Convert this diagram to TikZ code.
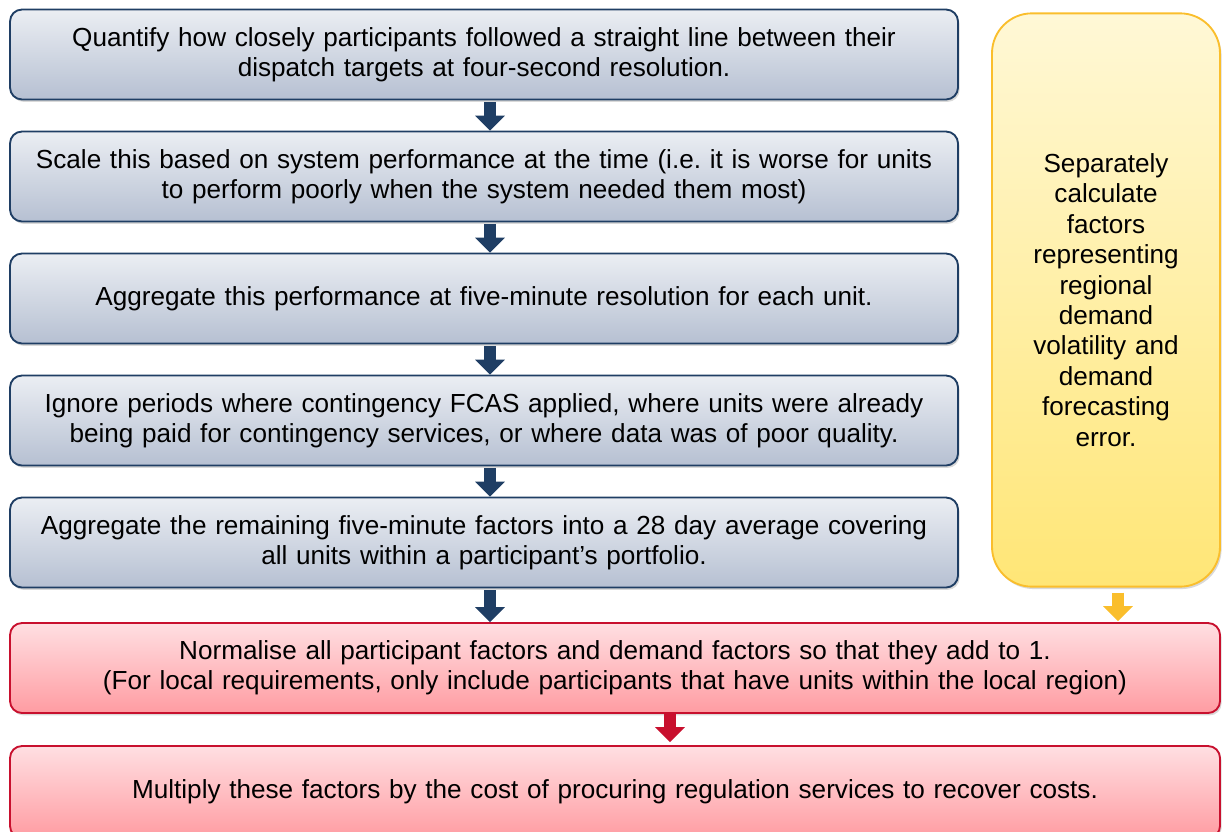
\documentclass[tikz,border=0pt]{standalone}
\usepackage{fontspec}
\setmainfont{Liberation Sans}
\usetikzlibrary{calc,arrows.meta,shadows}

\definecolor{navyline}{RGB}{31,62,100}
\definecolor{bluetop}{RGB}{235,238,243}
\definecolor{bluebot}{RGB}{182,192,210}
\definecolor{goldline}{RGB}{250,190,44}
\definecolor{yeltop}{RGB}{255,248,214}
\definecolor{yelbot}{RGB}{255,230,118}
\definecolor{crimson}{RGB}{200,16,46}
\definecolor{redtop}{RGB}{255,223,226}
\definecolor{redbot}{RGB}{255,156,162}

\frenchspacing

\tikzset{
  boxtext/.style={font=\fontsize{19.6pt}{22.8pt}\selectfont, align=center, inner sep=0pt, text=black},
  stepbox/.style={boxtext, rectangle, rounded corners=9pt, line width=1.4pt,
    draw=navyline, top color=bluetop, bottom color=bluebot,
    minimum width=711pt, minimum height=67.5pt, text width=690pt,
    drop shadow={opacity=0.3, shadow xshift=1.2pt, shadow yshift=-1.8pt}},
  sidebox/.style={boxtext, rectangle, rounded corners=30pt, line width=1.4pt,
    draw=goldline, top color=yeltop, bottom color=yelbot,
    minimum width=171pt, minimum height=430pt, text width=160pt,
    drop shadow={opacity=0.3, shadow xshift=1.2pt, shadow yshift=-1.8pt}},
  costbox/.style={boxtext, rectangle, rounded corners=9pt, line width=1.4pt,
    draw=crimson, top color=redtop, bottom color=redbot,
    minimum width=907.5pt, minimum height=67.5pt, text width=890pt,
    drop shadow={opacity=0.3, shadow xshift=1.2pt, shadow yshift=-1.8pt}},
  flowarrow/.style={line width=9.5pt, -{Triangle[width=21.75pt,length=11.25pt]}},
}

\begin{document}
\begin{tikzpicture}[x=0.75pt,y=-0.75pt]
\useasboundingbox (0,0) rectangle (1222,832);

% main sequence of steps
\node[stepbox] (s1) at (484,54.5) {Quantify how closely participants followed a straight line between their\\dispatch targets at four-second resolution.};
\node[stepbox] (s2) at (484,176.5) {Scale this based on system performance at the time (i.e. it is worse for units\\to perform poorly when the system needed them most)};
\node[stepbox] (s3) at (484,298.5) {Aggregate this performance at five-minute resolution for each unit.};
\node[stepbox] (s4) at (484,420.5) {Ignore periods where contingency FCAS applied, where units were already\\being paid for contingency services, or where data was of poor quality.};
\node[stepbox] (s5) at (484,542.5) {Aggregate the remaining five-minute factors into a 28 day average covering\\all units within a participant’s portfolio.};

% demand factor branch
\node[sidebox] (dem) at (1106,300) {Separately\\calculate\\factors\\representing\\regional\\demand\\volatility and\\demand\\forecasting\\error.};

% normalisation and cost recovery
\node[costbox] (norm) at (615,668) {Normalise all participant factors and demand factors so that they add to 1.\\(For local requirements, only include participants that have units within the local region)};
\node[costbox, minimum height=69pt] (cost) at (615,792) {Multiply these factors by the cost of procuring regulation services to recover costs.};

% connectors
\foreach \a/\b in {s1/s2, s2/s3, s3/s4, s4/s5} {
  \draw[flowarrow, navyline] ($(\a.south)+(6,2)$) -- ($(\b.north)+(6,0)$);
}
\draw[flowarrow, navyline] ($(s5.south)+(6,2)$) -- ($(s5.south |- norm.north)+(6,0)$);
\draw[flowarrow, goldline] ($(dem.south)+(12,5)$) -- ($(dem.south |- norm.north)+(12,-1)$);
\draw[flowarrow, crimson] ($(norm.south)+(55,0)$) -- ($(norm.south |- cost.north)+(55,-3)$);
\end{tikzpicture}
\end{document}
